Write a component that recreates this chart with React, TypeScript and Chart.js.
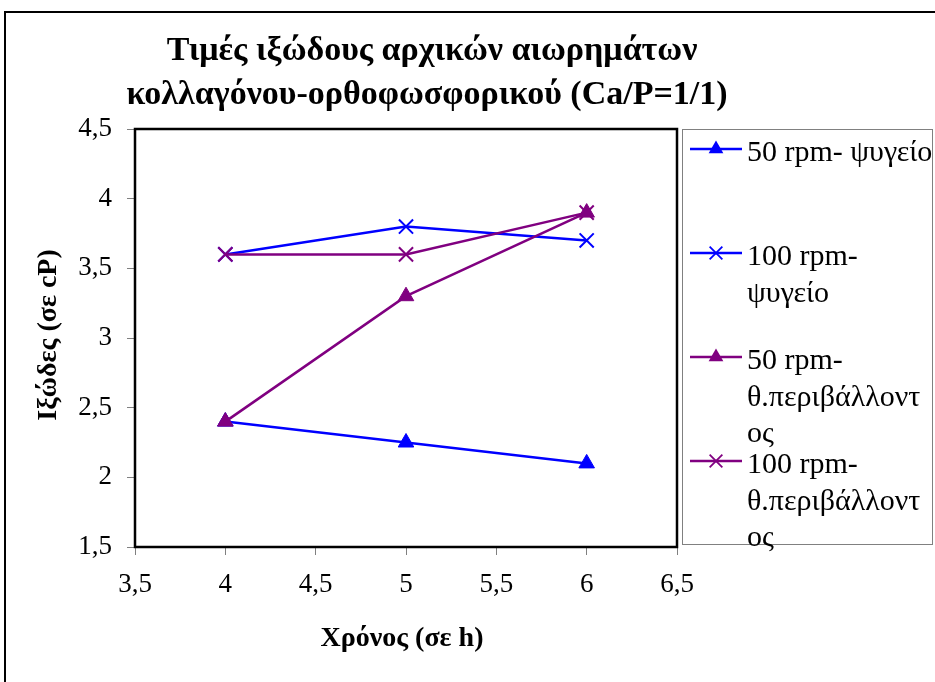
import React, { useEffect, useRef } from "react";
import { Chart, registerables } from "chart.js";

Chart.register(...registerables);

const hours = [4, 5, 6];
const rpm50Fridge = [2.4, 2.25, 2.1];
const rpm100Fridge = [3.6, 3.8, 3.7];
const rpm50Room = [2.4, 3.3, 3.9];
const rpm100Room = [3.6, 3.6, 3.9];

const titleLines = ["Τιμές ιξώδους αρχικών αιωρημάτων", "κολλαγόνου-ορθοφωσφορικού (Ca/P=1/1)"];
const xTitle = "Χρόνος (σε h)";
const yTitle = "Ιξώδες (σε cP)";
const legendLabels = [
  ["50 rpm- ψυγείο"],
  ["100 rpm-", "ψυγείο"],
  ["50 rpm-", "θ.περιβάλλοντ", "ος"],
  ["100 rpm-", "θ.περιβάλλοντ", "ος"],
];

const BLUE = "#0000FF";
const PURPLE = "#800080";
const SERIF = "'Liberation Serif', 'Times New Roman', serif";

const fmt = (v: number) => String(v).replace(".", ",");

function drawMarker(ctx: CanvasRenderingContext2D, style: string, x: number, y: number, r: number, color: string) {
  ctx.save();
  ctx.fillStyle = color;
  ctx.strokeStyle = color;
  ctx.lineWidth = 1.8;
  ctx.beginPath();
  if (style === "triangle") {
    ctx.moveTo(x, y - r);
    ctx.lineTo(x + r * 0.866, y + r * 0.5);
    ctx.lineTo(x - r * 0.866, y + r * 0.5);
    ctx.closePath();
    ctx.fill();
  } else {
    const d = r * 0.707;
    ctx.moveTo(x - d, y - d);
    ctx.lineTo(x + d, y + d);
    ctx.moveTo(x + d, y - d);
    ctx.lineTo(x - d, y + d);
    ctx.stroke();
  }
  ctx.restore();
}

const decorPlugin = {
  id: "decor",
  beforeDraw(chart: any) {
    const ctx = chart.ctx as CanvasRenderingContext2D;
    ctx.save();
    ctx.fillStyle = "#fff";
    ctx.fillRect(0, 0, chart.width, chart.height);
    ctx.strokeStyle = "#000";
    ctx.lineWidth = 2;
    ctx.strokeRect(5, 12, chart.width + 20, chart.height + 20);
    ctx.restore();
  },
  afterDraw(chart: any) {
    const ctx = chart.ctx as CanvasRenderingContext2D;
    const a = chart.chartArea;
    ctx.save();
    // plot border
    ctx.strokeStyle = "#000";
    ctx.lineWidth = 2.5;
    ctx.strokeRect(a.left, a.top, a.right - a.left, a.bottom - a.top);

    // title
    ctx.fillStyle = "#000";
    ctx.font = `bold 34px ${SERIF}`;
    ctx.textAlign = "center";
    ctx.textBaseline = "alphabetic";
    ctx.fillText(titleLines[0], 432, 60);
    ctx.fillText(titleLines[1], 427, 104);

    // axis titles
    ctx.font = `bold 28px ${SERIF}`;
    ctx.fillText(xTitle, 402, 646);
    ctx.save();
    ctx.translate(56, 335);
    ctx.rotate(-Math.PI / 2);
    ctx.fillText(yTitle, 0, 0);
    ctx.restore();

    // legend
    ctx.strokeStyle = "#808080";
    ctx.lineWidth = 1;
    ctx.strokeRect(682.5, 129.5, 250, 415);
    ctx.font = `30px ${SERIF}`;
    ctx.textAlign = "left";
    chart.data.datasets.forEach((ds: any, i: number) => {
      const y = 149 + i * 104;
      ctx.strokeStyle = ds.borderColor;
      ctx.lineWidth = 2.5;
      ctx.beginPath();
      ctx.moveTo(690, y);
      ctx.lineTo(742, y);
      ctx.stroke();
      drawMarker(ctx, ds.pointStyle, 716, y, ds.pointStyle === "triangle" ? 8.5 : 9, ds.borderColor);
      ctx.fillStyle = "#000";
      legendLabels[i].forEach((line, j) => {
        ctx.fillText(line, 747, y + 12 + j * 36.5);
      });
    });
    ctx.restore();
  },
};

export default function App() {
  const ref = useRef<HTMLCanvasElement | null>(null);
  useEffect(() => {
    document.body.style.margin = "0";
    const mk = (x: number[], y: number[]) => x.map((v, i) => ({ x: v, y: y[i] }));
    const chart = new Chart(ref.current!, {
      type: "line",
      data: {
        datasets: [
          { label: legendLabels[0].join(" "), data: mk(hours, rpm50Fridge), borderColor: BLUE, backgroundColor: BLUE, pointStyle: "triangle", pointRadius: 9, pointBorderWidth: 1, borderWidth: 2.5, order: 2 },
          { label: legendLabels[1].join(" "), data: mk(hours, rpm100Fridge), borderColor: BLUE, backgroundColor: BLUE, pointStyle: "crossRot", pointRadius: 10, pointBorderWidth: 2, borderWidth: 2.5, order: 2 },
          { label: legendLabels[2].join(" "), data: mk(hours, rpm50Room), borderColor: PURPLE, backgroundColor: PURPLE, pointStyle: "triangle", pointRadius: 9, pointBorderWidth: 1, borderWidth: 2.5, order: 1 },
          { label: legendLabels[3].join(" "), data: mk(hours, rpm100Room), borderColor: PURPLE, backgroundColor: PURPLE, pointStyle: "crossRot", pointRadius: 10, pointBorderWidth: 2, borderWidth: 2.5, order: 1 },
        ] as any,
      },
      options: {
        animation: false,
        responsive: false,
        maintainAspectRatio: false,
        layout: { padding: { left: 75, right: 258, top: 129, bottom: 75 } },
        plugins: { legend: { display: false }, title: { display: false }, tooltip: { enabled: false } },
        scales: {
          x: {
            type: "linear",
            min: 3.5,
            max: 6.5,
            afterFit: (s: any) => { s.height = 60; },
            ticks: { stepSize: 0.5, color: "#000", font: { family: SERIF, size: 27 }, padding: 14, callback: (v: any) => fmt(v), maxRotation: 0 },
            grid: { drawOnChartArea: false, drawTicks: true, tickLength: 8, color: "#808080" },
            border: { display: false },
          },
          y: {
            type: "linear",
            min: 1.5,
            max: 4.5,
            afterFit: (s: any) => { s.width = 60; },
            ticks: { stepSize: 0.5, color: "#000", font: { family: SERIF, size: 27 }, padding: 15, callback: (v: any) => fmt(v) },
            grid: { drawOnChartArea: false, drawTicks: true, tickLength: 8, color: "#808080" },
            border: { display: false },
          },
        },
      },
      plugins: [decorPlugin],
    });
    return () => chart.destroy();
  }, []);
  return <canvas ref={ref} width={935} height={682} style={{ display: "block" }} />;
}
